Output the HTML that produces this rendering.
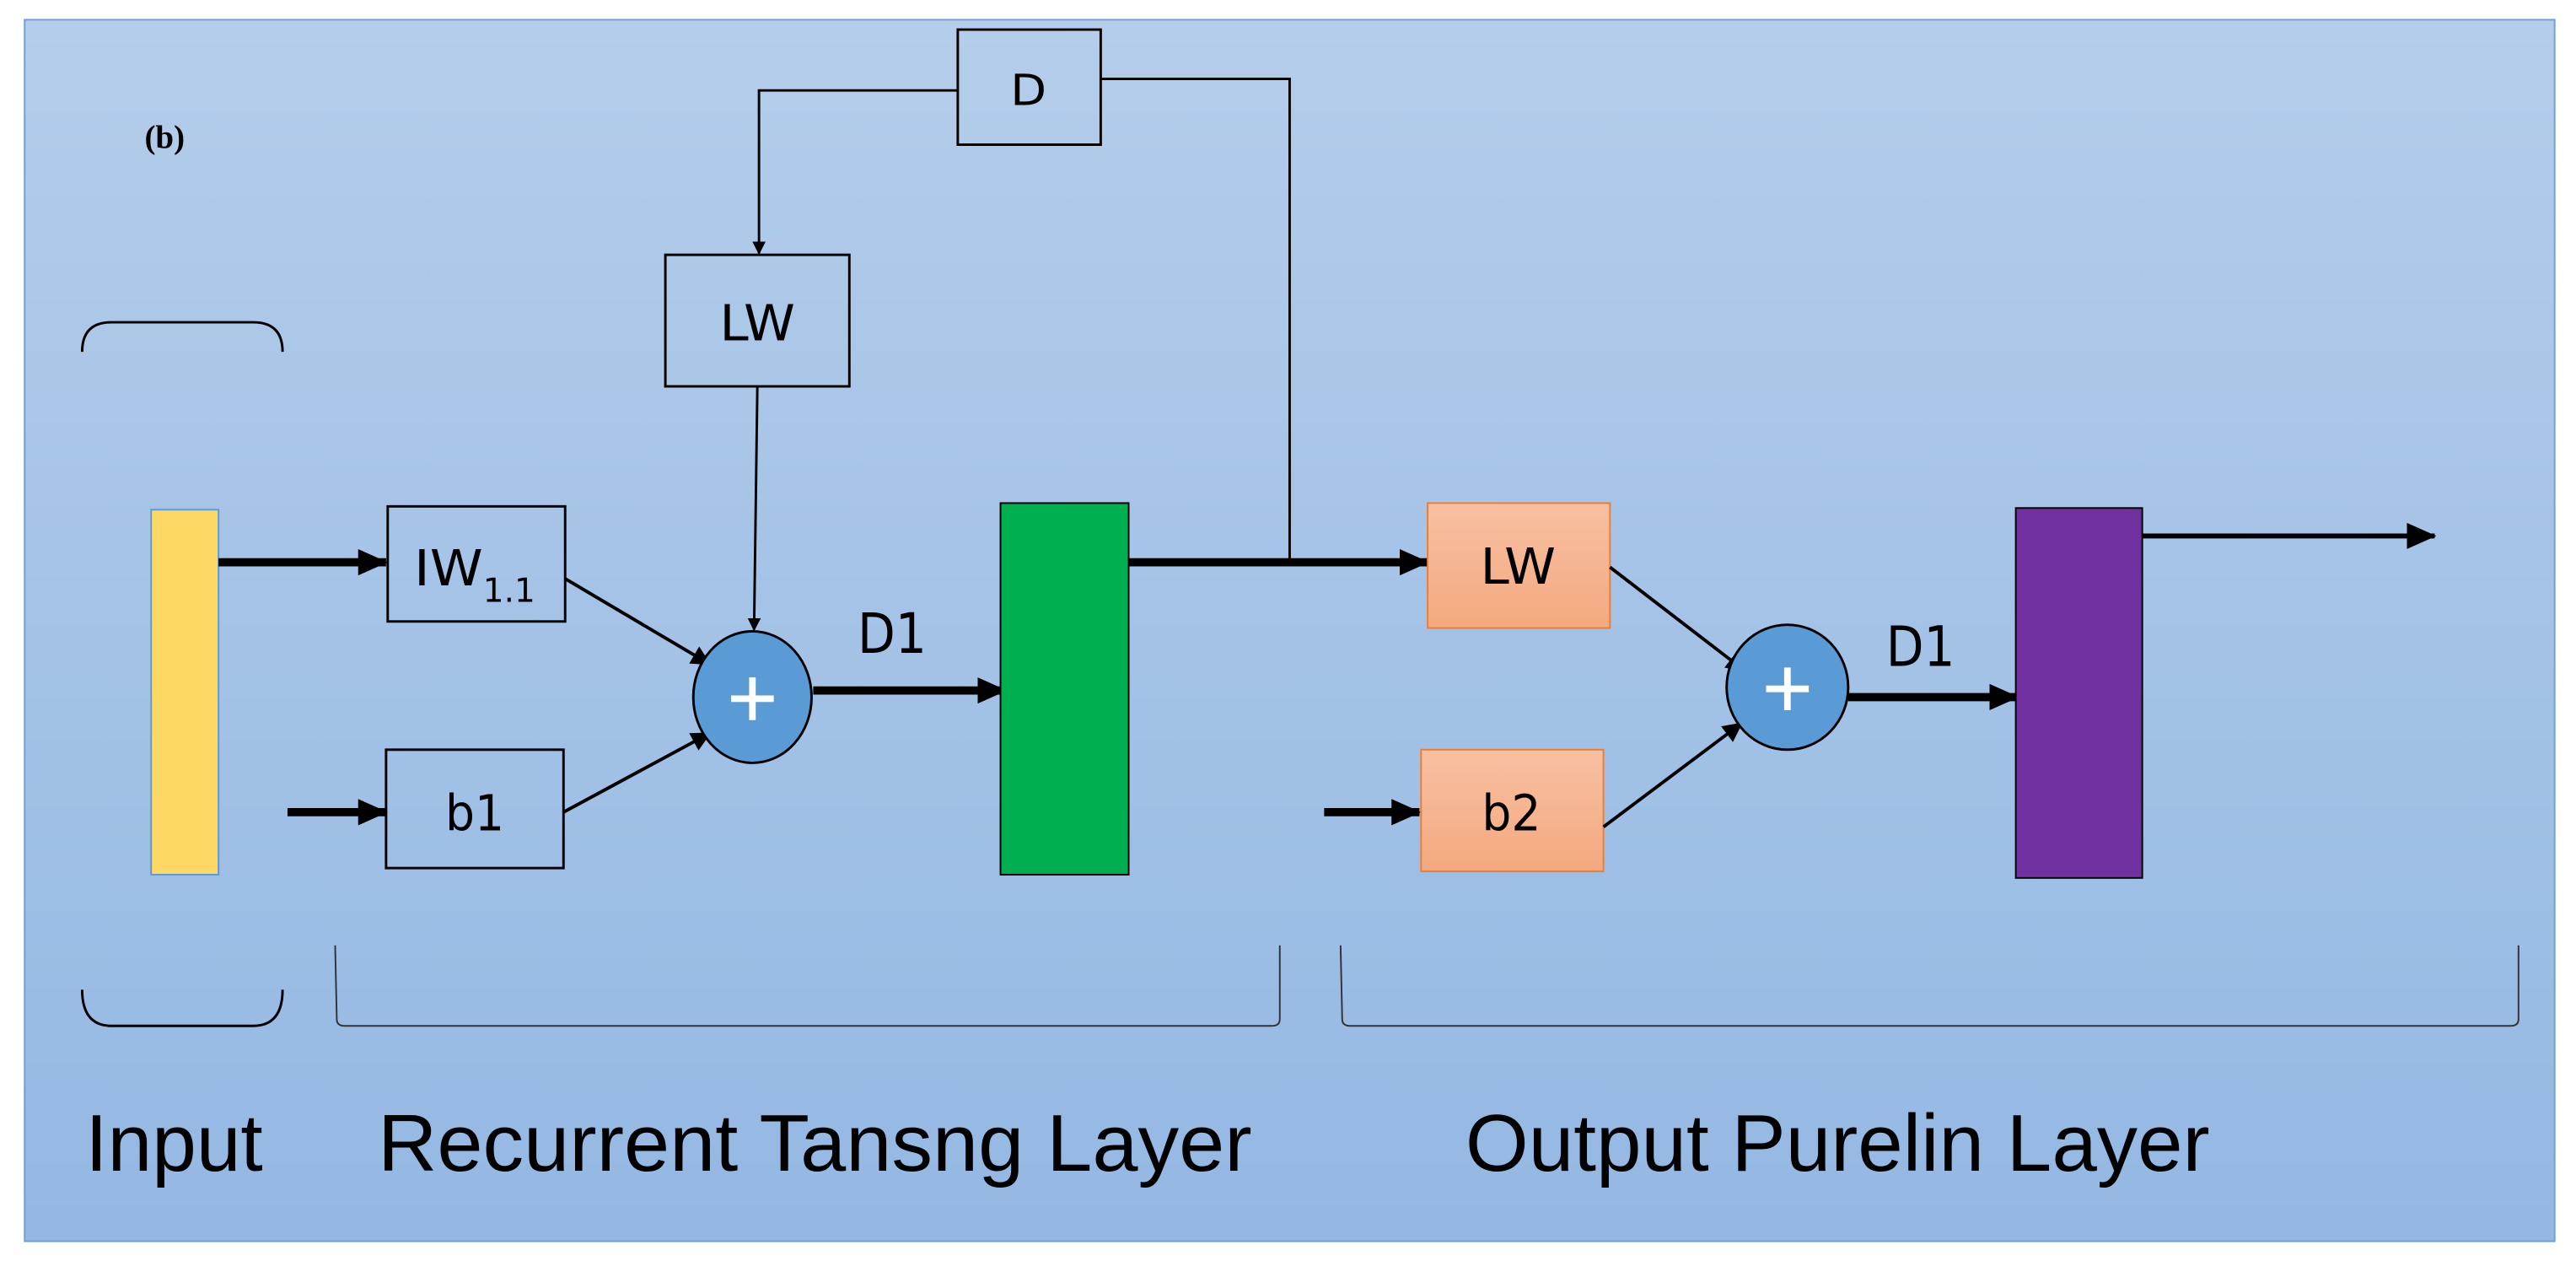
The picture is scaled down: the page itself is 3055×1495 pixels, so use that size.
<!DOCTYPE html>
<html><head><meta charset="utf-8"><style>
html,body{margin:0;padding:0;background:#fff;}
svg{display:block;}
text{font-family:"DejaVu Sans","Liberation Sans",sans-serif;}
</style></head><body>
<svg width="3055" height="1495" viewBox="0 0 1568 767" preserveAspectRatio="none" xmlns="http://www.w3.org/2000/svg">
<defs>
<linearGradient id="bg" x1="0" y1="0" x2="0" y2="1"><stop offset="0" stop-color="#b4cdea"/><stop offset="1" stop-color="#94b8e3"/></linearGradient>
<linearGradient id="or" x1="0" y1="0" x2="0" y2="1"><stop offset="0" stop-color="#f7c0a2"/><stop offset="1" stop-color="#f4a97f"/></linearGradient>
<marker id="a" markerWidth="8" markerHeight="8" refX="7" refY="4" orient="auto" markerUnits="userSpaceOnUse"><path d="M0,0 L8,4 L0,8z" fill="#000"/></marker>
<marker id="A" markerWidth="18" markerHeight="16" refX="17" refY="8" orient="auto" markerUnits="userSpaceOnUse"><path d="M0,0 L18,8 L0,16z" fill="#000"/></marker>
<marker id="m" markerWidth="12" markerHeight="12" refX="11" refY="6" orient="auto" markerUnits="userSpaceOnUse"><path d="M0,0 L12,6 L0,12z" fill="#000"/></marker>
</defs>
<rect x="15" y="12" width="1540" height="743" fill="url(#bg)" stroke="#6f9fd8" stroke-width="1"/>
<text x="88" y="90" font-weight="bold" font-size="20" style="font-family:'Liberation Serif',serif">(b)</text>
<!-- D box and feedback -->
<rect x="583" y="18" width="87" height="70" fill="none" stroke="#000" stroke-width="1.5"/>
<text x="626" y="64" font-size="26" text-anchor="middle" textLength="22" lengthAdjust="spacingAndGlyphs">D</text>
<polyline points="583,55 462,55 462,154" fill="none" stroke="#000" stroke-width="1.5" marker-end="url(#a)"/>
<polyline points="670,48 785,48 785,342" fill="none" stroke="#000" stroke-width="1.5"/>
<rect x="405" y="155" width="112" height="80" fill="none" stroke="#000" stroke-width="1.5"/>
<text x="461" y="207" font-size="30" text-anchor="middle" textLength="46" lengthAdjust="spacingAndGlyphs">LW</text>
<line x1="461" y1="235" x2="459" y2="383" stroke="#000" stroke-width="1.5" marker-end="url(#a)"/>
<!-- input -->
<rect x="92" y="310" width="41" height="222" fill="#fed865" stroke="#5b9bd5" stroke-width="1"/>
<line x1="133" y1="342" x2="235" y2="342" stroke="#000" stroke-width="5" marker-end="url(#A)"/>
<rect x="236" y="308" width="108" height="70" fill="none" stroke="#000" stroke-width="1.5"/>
<text x="252" y="356" font-size="30"><tspan textLength="42" lengthAdjust="spacingAndGlyphs">IW</tspan><tspan font-size="20" dy="10">1.1</tspan></text>
<line x1="175" y1="494" x2="235" y2="494" stroke="#000" stroke-width="5" marker-end="url(#A)"/>
<rect x="235" y="456" width="108" height="72" fill="none" stroke="#000" stroke-width="1.5"/>
<text x="289" y="505" font-size="30" text-anchor="middle" textLength="36" lengthAdjust="spacingAndGlyphs">b1</text>
<line x1="344" y1="352" x2="432" y2="404" stroke="#000" stroke-width="2" marker-end="url(#m)"/>
<line x1="343" y1="494" x2="432" y2="446" stroke="#000" stroke-width="2" marker-end="url(#m)"/>
<ellipse cx="458" cy="424" rx="36" ry="40" fill="#5b9bd5" stroke="#000" stroke-width="1.5"/>
<path d="M458,412 v26 M445,425 h26" stroke="#fff" stroke-width="4"/>
<text x="522" y="397" font-size="34" textLength="42" lengthAdjust="spacingAndGlyphs">D1</text>
<line x1="495" y1="420" x2="612" y2="420" stroke="#000" stroke-width="5" marker-end="url(#A)"/>
<rect x="609" y="306" width="78" height="226" fill="#00b050" stroke="#000" stroke-width="1"/>
<line x1="687" y1="342" x2="869" y2="342" stroke="#000" stroke-width="5" marker-end="url(#A)"/>
<!-- output layer -->
<rect x="869" y="306" width="111" height="76" fill="url(#or)" stroke="#ed7d31" stroke-width="1"/>
<text x="924" y="355" font-size="30" text-anchor="middle" textLength="46" lengthAdjust="spacingAndGlyphs">LW</text>
<line x1="806" y1="494" x2="864" y2="494" stroke="#000" stroke-width="5" marker-end="url(#A)"/>
<rect x="865" y="456" width="111" height="74" fill="url(#or)" stroke="#ed7d31" stroke-width="1"/>
<text x="920" y="505" font-size="30" text-anchor="middle" textLength="36" lengthAdjust="spacingAndGlyphs">b2</text>
<line x1="980" y1="345" x2="1062" y2="408" stroke="#000" stroke-width="2" marker-end="url(#m)"/>
<line x1="976" y1="503" x2="1060" y2="440" stroke="#000" stroke-width="2" marker-end="url(#m)"/>
<ellipse cx="1088" cy="418" rx="37" ry="38" fill="#5b9bd5" stroke="#000" stroke-width="1.5"/>
<path d="M1088,406 v26 M1075,419 h26" stroke="#fff" stroke-width="4"/>
<text x="1148" y="405" font-size="34" textLength="42" lengthAdjust="spacingAndGlyphs">D1</text>
<line x1="1125" y1="424" x2="1228" y2="424" stroke="#000" stroke-width="5" marker-end="url(#A)"/>
<rect x="1227" y="309" width="77" height="225" fill="#7030a0" stroke="#000" stroke-width="1"/>
<line x1="1304" y1="326" x2="1482" y2="326" stroke="#000" stroke-width="3" marker-end="url(#A)"/>
<!-- brackets -->
<path d="M50,214 Q50,196 68,196 L154,196 Q172,196 172,214" fill="none" stroke="#000" stroke-width="1.5"/>
<path d="M50,602 Q50,624 68,624 L154,624 Q172,624 172,602" fill="none" stroke="#000" stroke-width="1.5"/>
<path d="M204,575 L205,620 Q205,624 210,624 L774,624 Q779,624 779,620 L779,575" fill="none" stroke="#333" stroke-width="1"/>
<path d="M816,575 L817,620 Q817,624 822,624 L1528,624 Q1533,624 1533,620 L1533,575" fill="none" stroke="#333" stroke-width="1"/>
<text x="52" y="712" font-size="49" textLength="108" lengthAdjust="spacingAndGlyphs" style="font-family:'Liberation Sans',sans-serif">Input</text>
<text x="230" y="712" font-size="49" textLength="532" lengthAdjust="spacingAndGlyphs" style="font-family:'Liberation Sans',sans-serif">Recurrent Tansng Layer</text>
<text x="892" y="712" font-size="49" textLength="453" lengthAdjust="spacingAndGlyphs" style="font-family:'Liberation Sans',sans-serif">Output Purelin Layer</text>
</svg>
</body></html>
